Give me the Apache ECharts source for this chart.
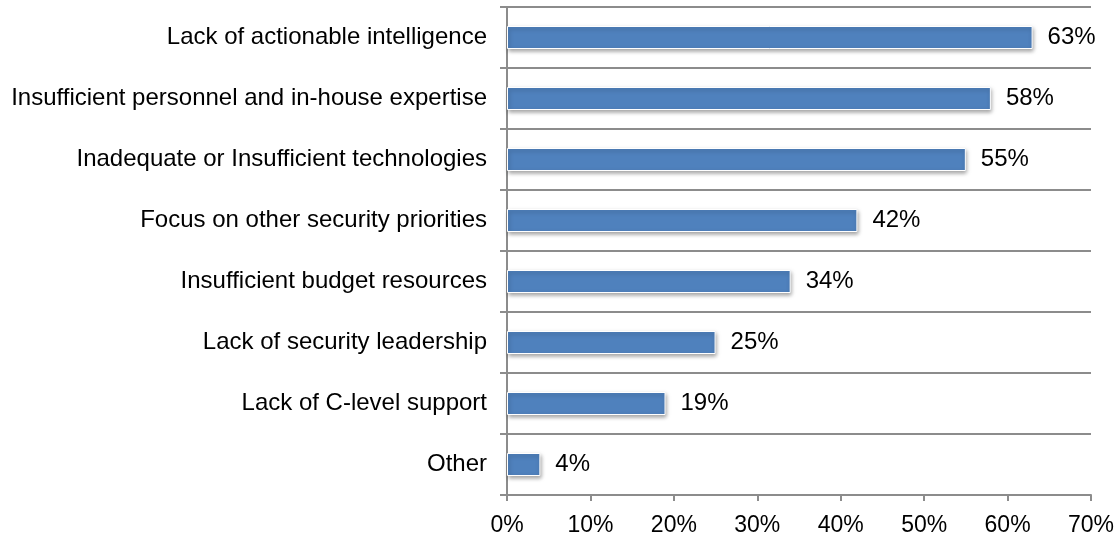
<!DOCTYPE html>
<html>
<head>
<meta charset="utf-8">
<style>
  html, body { margin: 0; padding: 0; background: #fff; }
  #chart { width: 1120px; height: 537px; }
</style>
<script src="https://cdn.jsdelivr.net/npm/echarts@6/dist/echarts.min.js"></script>
</head>
<body>
<div id="chart"></div>
<script>
// Reported obstacles, top to bottom
const categories = [
  'Lack of actionable intelligence',
  'Insufficient personnel and in-house expertise',
  'Inadequate or Insufficient technologies',
  'Focus on other security priorities',
  'Insufficient budget resources',
  'Lack of security leadership',
  'Lack of C-level support',
  'Other'
];
const shares = [63, 58, 55, 42, 34, 25, 19, 4];
const xTicks = [0, 10, 20, 30, 40, 50, 60, 70];

const chart = echarts.init(document.getElementById('chart'), null, { renderer: 'canvas' });
const font = 'Liberation Sans, Arial, sans-serif';
const lineColor = '#8c8c8c';

chart.setOption({
  animation: false,
  grid: { left: 507, right: 29, top: 7, bottom: 42, containLabel: false },
  xAxis: {
    type: 'value',
    min: xTicks[0],
    max: xTicks[xTicks.length - 1],
    interval: 10,
    axisLine: { show: true, lineStyle: { color: lineColor, width: 2 } },
    axisTick: { show: true, length: 6, lineStyle: { color: lineColor, width: 2 } },
    splitLine: { show: false },
    axisLabel: {
      formatter: v => v + '%',
      color: '#000', fontFamily: font, fontSize: 23, margin: 19
    }
  },
  yAxis: {
    type: 'category',
    data: categories,
    inverse: true,
    axisLine: { show: true, lineStyle: { color: lineColor, width: 2 } },
    axisTick: { show: true, length: 7, lineStyle: { color: lineColor, width: 2 } },
    splitLine: { show: true, lineStyle: { color: lineColor, width: 2 } },
    axisLabel: { color: '#000', fontFamily: font, fontSize: 24, margin: 20 }
  },
  series: [{
    type: 'bar',
    data: shares,
    barWidth: 23,
    itemStyle: {
      color: '#4f81bd',
      borderColor: '#ffffff',
      borderWidth: 1,
      shadowColor: 'rgba(0,0,0,0.35)',
      shadowBlur: 4,
      shadowOffsetX: 1,
      shadowOffsetY: 2
    },
    label: {
      show: true,
      position: 'right',
      distance: 15,
      formatter: p => p.value + '%',
      color: '#000', fontFamily: font, fontSize: 24
    }
  }]
});
</script>
</body>
</html>
